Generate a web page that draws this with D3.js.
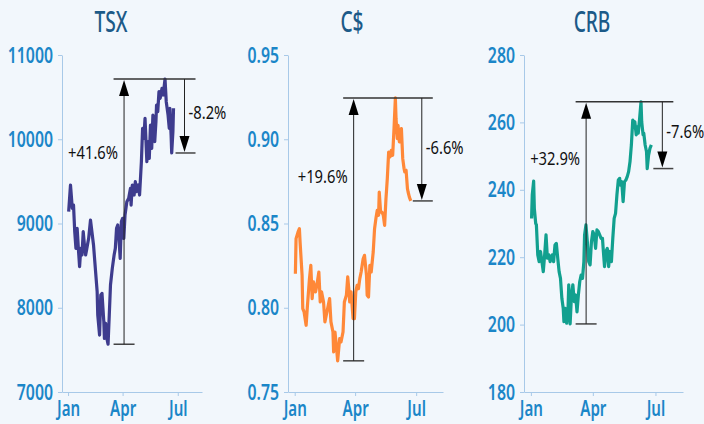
<!DOCTYPE html>
<html>
<head>
<meta charset="utf-8">
<script src="https://cdn.jsdelivr.net/npm/d3@7"></script>
<style>
  body { margin: 0; background: #f2f7fc; }
  svg { display: block; }
  text { font-family: "Noto Sans", "Open Sans", sans-serif; }
</style>
</head>
<body>
<svg id="chart" width="704" height="424"></svg>
<script>
// ---- data ----
var titles = ["TSX", "C$", "CRB"];
var riseLabels = ["+41.6%", "+19.6%", "+32.9%"];
var fallLabels = ["-8.2%", "-6.6%", "-7.6%"];
var yDomains = [[7000, 11000], [0.75, 0.95], [180, 280]];
var yTickValues = [
    [7000, 8000, 9000, 10000, 11000],
    [0.75, 0.80, 0.85, 0.90, 0.95],
    [180, 200, 220, 240, 260, 280]
];
var yTickFormats = ["d", ".2f", "d"];
var xDomain = ["2008-12-22", "2009-08-10"];

var tsxDates = ["2009-01-02","2009-01-05","2009-01-08","2009-01-10","2009-01-12","2009-01-14","2009-01-16","2009-01-18","2009-01-20","2009-01-22",
    "2009-01-24","2009-01-26","2009-01-28","2009-01-30","2009-02-01","2009-02-04","2009-02-07","2009-02-10","2009-02-12","2009-02-15",
    "2009-02-18","2009-02-19","2009-02-22","2009-02-24","2009-02-26","2009-03-01","2009-03-02","2009-03-04","2009-03-06","2009-03-08",
    "2009-03-10","2009-03-12","2009-03-15","2009-03-18","2009-03-20","2009-03-22","2009-03-24","2009-03-26","2009-03-28","2009-03-30",
    "2009-04-01","2009-04-03","2009-04-05","2009-04-08","2009-04-11","2009-04-14","2009-04-15","2009-04-17","2009-04-20","2009-04-22",
    "2009-04-24","2009-04-27","2009-04-29","2009-05-02","2009-05-04","2009-05-06","2009-05-08","2009-05-11","2009-05-13","2009-05-15",
    "2009-05-17","2009-05-19","2009-05-21","2009-05-24","2009-05-26","2009-05-27","2009-05-29","2009-05-31","2009-06-02","2009-06-05",
    "2009-06-07","2009-06-10","2009-06-12","2009-06-15","2009-06-17","2009-06-18","2009-06-20","2009-06-21","2009-06-23","2009-06-24"];
var tsxValues = [9140, 9457, 9180, 9220, 8903, 8705, 8942, 8705, 8487, 8705,
    8626, 8903, 8745, 8626, 8705, 8824, 9041, 8863, 8745, 8467,
    8190, 7914, 7676, 8151, 8171, 7834, 7637, 7815, 7637, 7567,
    7914, 8270, 8467, 8626, 8705, 8942, 8982, 8824, 8586, 9022,
    9061, 8824, 9101, 9259, 9298, 9417, 9219, 9457, 9338, 9496,
    9378, 9457, 9338, 9734, 10130, 10011, 10248, 9734, 9971, 9773,
    10169, 9892, 10288, 9971, 10209, 10406, 10327, 10565, 10486, 10604,
    10525, 10715, 10446, 10288, 10130, 10367, 10050, 9837, 10090, 10367];

var cadDates = ["2009-01-02","2009-01-03","2009-01-06","2009-01-08","2009-01-09","2009-01-12","2009-01-13","2009-01-15","2009-01-18","2009-01-20",
    "2009-01-23","2009-01-25","2009-01-27","2009-01-29","2009-02-01","2009-02-03","2009-02-06","2009-02-08","2009-02-10","2009-02-13",
    "2009-02-15","2009-02-18","2009-02-20","2009-02-22","2009-02-24","2009-02-27","2009-02-28","2009-03-02","2009-03-04","2009-03-06",
    "2009-03-09","2009-03-11","2009-03-14","2009-03-16","2009-03-19","2009-03-21","2009-03-23","2009-03-24","2009-03-26","2009-03-29",
    "2009-03-31","2009-04-02","2009-04-04","2009-04-06","2009-04-08","2009-04-10","2009-04-13","2009-04-15","2009-04-18","2009-04-19",
    "2009-04-21","2009-04-23","2009-04-25","2009-04-28","2009-04-30","2009-05-02","2009-05-04","2009-05-06","2009-05-07","2009-05-09",
    "2009-05-11","2009-05-13","2009-05-15","2009-05-17","2009-05-19","2009-05-21","2009-05-23","2009-05-25","2009-05-27","2009-05-29",
    "2009-05-31","2009-06-01","2009-06-03","2009-06-04","2009-06-06","2009-06-08","2009-06-09","2009-06-11","2009-06-13","2009-06-14",
    "2009-06-16","2009-06-18","2009-06-19","2009-06-21","2009-06-23"];
var cadValues = [0.8202, 0.8410, 0.8450, 0.8469, 0.8390, 0.8192, 0.7995, 0.7975, 0.7896, 0.8014,
    0.8173, 0.8252, 0.8054, 0.8153, 0.8094, 0.8133, 0.8212, 0.8034, 0.8094, 0.8034,
    0.7916, 0.7975, 0.8014, 0.8054, 0.7916, 0.7856, 0.7738, 0.7856, 0.7777, 0.7685,
    0.7817, 0.7797, 0.7856, 0.8034, 0.8074, 0.8183, 0.8094, 0.8034, 0.8094, 0.7935,
    0.7935, 0.8094, 0.8133, 0.8113, 0.8173, 0.8212, 0.8291, 0.8311, 0.8192, 0.8074,
    0.8064, 0.8252, 0.8212, 0.8331, 0.8469, 0.8529, 0.8578, 0.8549, 0.8687, 0.8568,
    0.8568, 0.8549, 0.8489, 0.8647, 0.8766, 0.8924, 0.8895, 0.8934, 0.8905, 0.9063,
    0.9245, 0.9122, 0.9004, 0.9083, 0.8984, 0.9043, 0.9063, 0.8885, 0.8825, 0.8806,
    0.8816, 0.8707, 0.8687, 0.8655, 0.8634];

var crbDates = ["2009-01-02","2009-01-03","2009-01-05","2009-01-06","2009-01-08","2009-01-09","2009-01-11","2009-01-13","2009-01-15","2009-01-17",
    "2009-01-19","2009-01-21","2009-01-23","2009-01-25","2009-01-27","2009-01-29","2009-01-30","2009-02-01","2009-02-03","2009-02-05",
    "2009-02-07","2009-02-09","2009-02-11","2009-02-13","2009-02-15","2009-02-17","2009-02-18","2009-02-20","2009-02-22","2009-02-24",
    "2009-02-25","2009-02-27","2009-03-01","2009-03-03","2009-03-05","2009-03-07","2009-03-09","2009-03-11","2009-03-13","2009-03-15",
    "2009-03-17","2009-03-19","2009-03-20","2009-03-22","2009-03-24","2009-03-26","2009-03-28","2009-03-30","2009-04-01","2009-04-03",
    "2009-04-05","2009-04-07","2009-04-09","2009-04-11","2009-04-13","2009-04-15","2009-04-16","2009-04-18","2009-04-20","2009-04-22",
    "2009-04-24","2009-04-26","2009-04-28","2009-04-30","2009-05-02","2009-05-04","2009-05-06","2009-05-08","2009-05-10","2009-05-11",
    "2009-05-13","2009-05-15","2009-05-17","2009-05-19","2009-05-21","2009-05-23","2009-05-25","2009-05-27","2009-05-29","2009-05-31",
    "2009-06-01","2009-06-03","2009-06-04","2009-06-06","2009-06-08","2009-06-10","2009-06-11","2009-06-13","2009-06-14","2009-06-16",
    "2009-06-18","2009-06-19","2009-06-21","2009-06-23","2009-06-25"];
var crbValues = [231.5, 238.5, 242.6, 234.5, 230.0, 229.6, 220.7, 218.7, 221.7, 218.7,
    215.7, 220.7, 226.6, 219.7, 220.7, 218.7, 219.7, 220.7, 218.7, 223.6,
    224.1, 219.7, 215.7, 213.7, 207.8, 204.8, 200.9, 204.8, 200.4, 204.8,
    211.8, 200.2, 208.8, 211.8, 206.8, 208.8, 203.8, 208.8, 212.8, 214.7,
    213.7, 218.7, 226.6, 229.6, 224.6, 218.7, 217.7, 224.6, 227.6, 226.6,
    222.6, 228.1, 227.6, 226.6, 225.6, 225.6, 222.6, 217.2, 221.7, 222.6,
    217.2, 221.7, 218.7, 225.6, 231.5, 233.0, 238.5, 242.9, 243.4, 241.4,
    242.4, 236.5, 242.4, 242.9, 243.9, 245.4, 248.3, 253.3, 260.7, 259.2,
    260.2, 256.3, 258.7, 256.8, 261.2, 266.1, 260.2, 256.3, 256.8, 253.3,
    251.3, 246.3, 250.3, 252.3, 253.3];

// ---- layout / styles ----
var seriesDates = [tsxDates, cadDates, crbDates];
var seriesValues = [tsxValues, cadValues, crbValues];
var seriesColors = ["#3e3c8e", "#ff8838", "#12a08f"];
var panelLayout = [
    { left: 62, right: 202, titleX: 111, upFrac: 0.30 },
    { left: 288, right: 443, titleX: 352, upFrac: 0.325 },
    { left: 524, right: 683, titleX: 592, upFrac: 0.285 }
];
var plotTop = 55, plotBottom = 392;
var axisColor = "#a8c9e8", tickColor = "#1b86c8", titleColor = "#1c5a88";
// the reference uses a condensed face; squeeze Noto Sans horizontally
var tickSqueeze = 0.72, titleSqueeze = 0.66, noteSqueeze = 0.82;

var parseDay = d3.utcParse("%Y-%m-%d");
var svg = d3.select("#chart");

function arrowHead(x, y, dir) {
    // dir -1 = pointing up, 1 = pointing down; tip at (x, y)
    var h = 16, w = 5;
    return "M" + x + "," + y + "L" + (x - w) + "," + (y - dir * h) + "L" + (x + w) + "," + (y - dir * h) + "Z";
}

function note(sel, x, y, anchor, txt) {
    sel.append("text")
        .attr("transform", "translate(" + x + "," + y + ") scale(" + noteSqueeze + ",1)")
        .attr("text-anchor", anchor)
        .attr("font-size", 18)
        .attr("fill", "#111")
        .text(txt);
}

titles.forEach(function (title, i) {
    var lay = panelLayout[i];
    var data = seriesDates[i].map(function (d, j) {
        return { date: parseDay(d), value: seriesValues[i][j] };
    });

    var x = d3.scaleUtc()
        .domain(xDomain.map(parseDay))
        .range([lay.left, lay.right]);
    var y = d3.scaleLinear()
        .domain(yDomains[i])
        .range([plotBottom, plotTop]);

    var g = svg.append("g");

    // title
    g.append("text")
        .attr("transform", "translate(" + lay.titleX + ",32) scale(" + titleSqueeze + ",1)")
        .attr("text-anchor", "middle")
        .attr("font-size", 29)
        .attr("font-weight", 500)
        .attr("fill", titleColor)
        .text(title);

    // y axis
    var yAxis = g.append("g")
        .attr("transform", "translate(" + lay.left + ",0)")
        .call(d3.axisLeft(y)
            .tickValues(yTickValues[i])
            .tickFormat(d3.format(yTickFormats[i]))
            .tickSize(4)
            .tickSizeOuter(0)
            .tickPadding(5));

    // x axis
    var xAxis = g.append("g")
        .attr("transform", "translate(0," + plotBottom + ")")
        .call(d3.axisBottom(x)
            .ticks(d3.utcMonth.every(3))
            .tickFormat(d3.utcFormat("%b"))
            .tickSize(4)
            .tickSizeOuter(0)
            .tickPadding(5));

    [yAxis, xAxis].forEach(function (ax) {
        ax.select(".domain").attr("stroke", axisColor);
        ax.selectAll(".tick line").attr("stroke", axisColor);
        ax.selectAll(".tick text")
            .attr("fill", tickColor)
            .attr("font-size", 22)
            .attr("font-weight", 600)
            .attr("font-family", null)
            .attr("transform", "scale(" + tickSqueeze + ",1)");
    });
    yAxis.selectAll(".tick text").attr("x", -9 / tickSqueeze);
    xAxis.selectAll(".tick text").attr("font-size", 21);

    // series line
    g.append("path")
        .datum(data)
        .attr("fill", "none")
        .attr("stroke", seriesColors[i])
        .attr("stroke-width", 3.2)
        .attr("stroke-linejoin", "round")
        .attr("d", d3.line()
            .x(function (d) { return x(d.date); })
            .y(function (d) { return y(d.value); }));

    // annotation: low -> high, then high -> later low
    var iMax = d3.maxIndex(data, function (d) { return d.value; });
    var before = data.slice(0, iMax + 1), after = data.slice(iMax);
    var low = before[d3.minIndex(before, function (d) { return d.value; })];
    var high = data[iMax];
    var dip = after[d3.minIndex(after, function (d) { return d.value; })];
    var last = data[data.length - 1];

    var x0 = x(low.date) + 5.5;
    var xEnd = x(last.date);
    var yLow = y(low.value), yHigh = y(high.value), yDip = y(dip.value);
    var upX = x0 + 10.5, downX = xEnd + 11;

    var ann = g.append("g");
    ann.append("line")
        .attr("x1", x0).attr("x2", xEnd + 22)
        .attr("y1", yHigh).attr("y2", yHigh)
        .attr("stroke", "#333").attr("stroke-width", 1.5);
    ann.append("line")
        .attr("x1", x0).attr("x2", x0 + 21)
        .attr("y1", yLow).attr("y2", yLow)
        .attr("stroke", "#444").attr("stroke-width", 1.5);
    ann.append("line")
        .attr("x1", xEnd + 2).attr("x2", xEnd + 22)
        .attr("y1", yDip).attr("y2", yDip)
        .attr("stroke", "#444").attr("stroke-width", 1.5);

    ann.append("line")
        .attr("x1", upX).attr("x2", upX)
        .attr("y1", yLow).attr("y2", yHigh + 10)
        .attr("stroke", "#222").attr("stroke-width", 1);
    ann.append("path").attr("d", arrowHead(upX, yHigh + 1, -1)).attr("fill", "#000");

    ann.append("line")
        .attr("x1", downX).attr("x2", downX)
        .attr("y1", yHigh).attr("y2", yDip - 10)
        .attr("stroke", "#222").attr("stroke-width", 1);
    ann.append("path").attr("d", arrowHead(downX, yDip - 1, 1)).attr("fill", "#000");

    note(ann, upX - 6, yHigh + lay.upFrac * (yLow - yHigh), "end", riseLabels[i]);
    note(ann, downX + 4, yHigh + 0.54 * (yDip - yHigh), "start", fallLabels[i]);
});
</script>
</body>
</html>
